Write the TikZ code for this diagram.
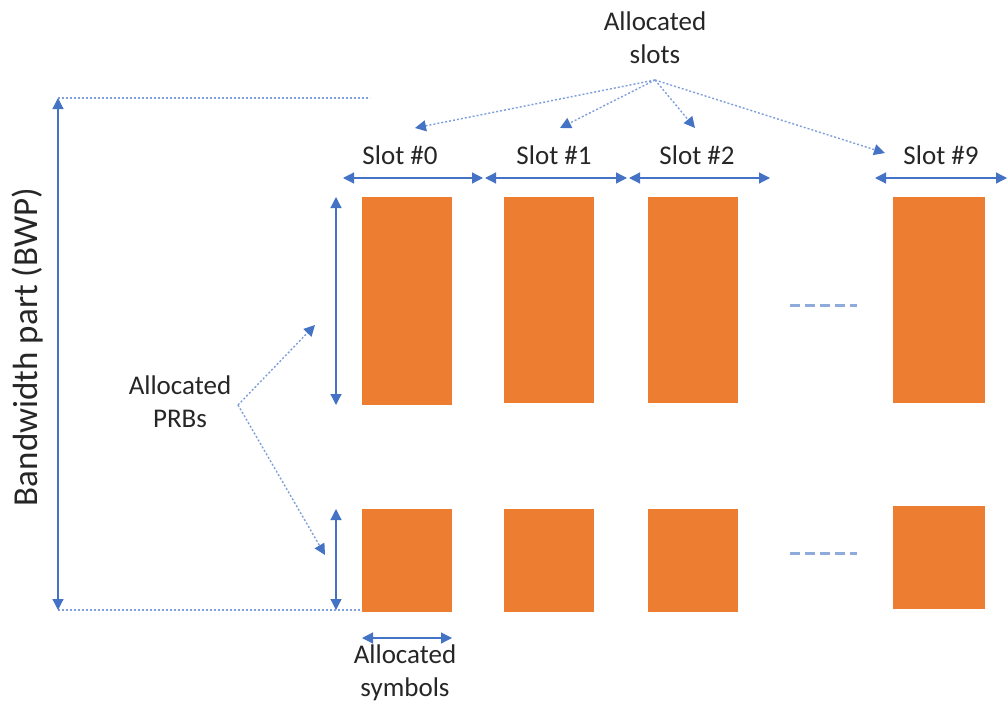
\documentclass[tikz,border=0pt]{standalone}
\usepackage{fontspec}
\setmainfont{Carlito}
\usetikzlibrary{arrows.meta}
\definecolor{orng}{HTML}{ED7D31}
\definecolor{blu}{HTML}{4472C4}
\definecolor{lblu}{HTML}{7F9FDA}
\definecolor{dashblu}{HTML}{8FAADC}
\begin{document}
\begin{tikzpicture}[x=1pt,y=-1pt,
  blk/.style={fill=orng, draw=none, inner sep=0pt, outer sep=0pt, anchor=north west},
  dim/.style={draw=blu, line width=1.2pt, {Triangle[length=11pt,width=11pt]}-{Triangle[length=11pt,width=11pt]}},
  ptr/.style={draw=lblu, line width=1.4pt, dash pattern=on 2pt off 2pt, -{Triangle[length=11pt,width=11pt,color=blu,fill=blu]}},
  guide/.style={draw=lblu, line width=1.4pt, dash pattern=on 2pt off 2pt},
  ellip/.style={draw=dashblu, line width=3pt, dash pattern=on 10pt off 5pt},
  lbl/.style={font=\fontsize{27}{33}\selectfont, align=center, inner sep=0pt, text=black!85}]
\useasboundingbox (0,0) rectangle (1008,704);

% orange blocks, top row
\node[blk, minimum width=90pt, minimum height=208pt] (t0) at (362,197) {};
\node[blk, minimum width=90pt, minimum height=206pt] (t1) at (504,197) {};
\node[blk, minimum width=90pt, minimum height=206pt] (t2) at (648,197) {};
\node[blk, minimum width=92pt, minimum height=206pt] (t9) at (893,197) {};
% bottom row
\node[blk, minimum width=90pt, minimum height=103pt] (b0) at (362,509) {};
\node[blk, minimum width=90pt, minimum height=103pt] (b1) at (504,509) {};
\node[blk, minimum width=90pt, minimum height=103pt] (b2) at (648,509) {};
\node[blk, minimum width=92pt, minimum height=103pt] (b9) at (893,506) {};

% ellipsis dashes
\coordinate (e1a) at (790,305); \coordinate (e1b) at (857,305);
\coordinate (e2a) at (790,553); \coordinate (e2b) at (857,553);
\draw[ellip] (e1a) -- (e1b);
\draw[ellip] (e2a) -- (e2b);

% slot labels
\node[lbl] (s0) at (400,155) {Slot \#0};
\node[lbl] (s1) at (554,155) {Slot \#1};
\node[lbl] (s2) at (697,155) {Slot \#2};
\node[lbl] (s9) at (941,155) {Slot \#9};

% slot dimension arrows
\coordinate (d0a) at (343,178); \coordinate (d0b) at (483,178);
\coordinate (d1a) at (485,178); \coordinate (d1b) at (627,178);
\coordinate (d2a) at (629,178); \coordinate (d2b) at (770,178);
\coordinate (d9a) at (875,178); \coordinate (d9b) at (1007,178);
\draw[dim] (d0a) -- (d0b);
\draw[dim] (d1a) -- (d1b);
\draw[dim] (d2a) -- (d2b);
\draw[dim] (d9a) -- (d9b);

% allocated slots
\node[lbl] (aslots) at (655,38) {Allocated\\slots};
\coordinate (apx) at (655,80);
\coordinate (p0) at (415,128);
\coordinate (p1) at (560,128);
\coordinate (p2) at (695,128);
\coordinate (p9) at (885,153);
\draw[ptr] (apx) -- (p0);
\draw[ptr] (apx) -- (p1);
\draw[ptr] (apx) -- (p2);
\draw[ptr] (apx) -- (p9);

% PRB dimension arrows
\coordinate (v1a) at (336,197); \coordinate (v1b) at (336,405);
\coordinate (v2a) at (336,509); \coordinate (v2b) at (336,610);
\draw[dim] (v1a) -- (v1b);
\draw[dim] (v2a) -- (v2b);

% allocated PRBs
\node[lbl] (aprb) at (180,402) {Allocated\\PRBs};
\coordinate (apx2) at (238,405);
\coordinate (q1) at (315,325);
\coordinate (q2) at (325,555);
\draw[ptr] (apx2) -- (q1);
\draw[ptr] (apx2) -- (q2);

% BWP
\coordinate (g1a) at (58,98); \coordinate (g1b) at (370,98);
\coordinate (g2a) at (58,610); \coordinate (g2b) at (362,610);
\draw[guide] (g1a) -- (g1b);
\draw[guide] (g2a) -- (g2b);
\draw[dim] (g1a) -- (g2a);
\node[lbl, font=\fontsize{35}{40}\selectfont, rotate=90] (bwp) at (28,347) {Bandwidth part (BWP)};

% allocated symbols
\coordinate (h1) at (362,638); \coordinate (h2) at (452,638);
\draw[dim] (h1) -- (h2);
\node[lbl] (asym) at (405,673) {Allocated\\symbols};
\end{tikzpicture}
\end{document}
